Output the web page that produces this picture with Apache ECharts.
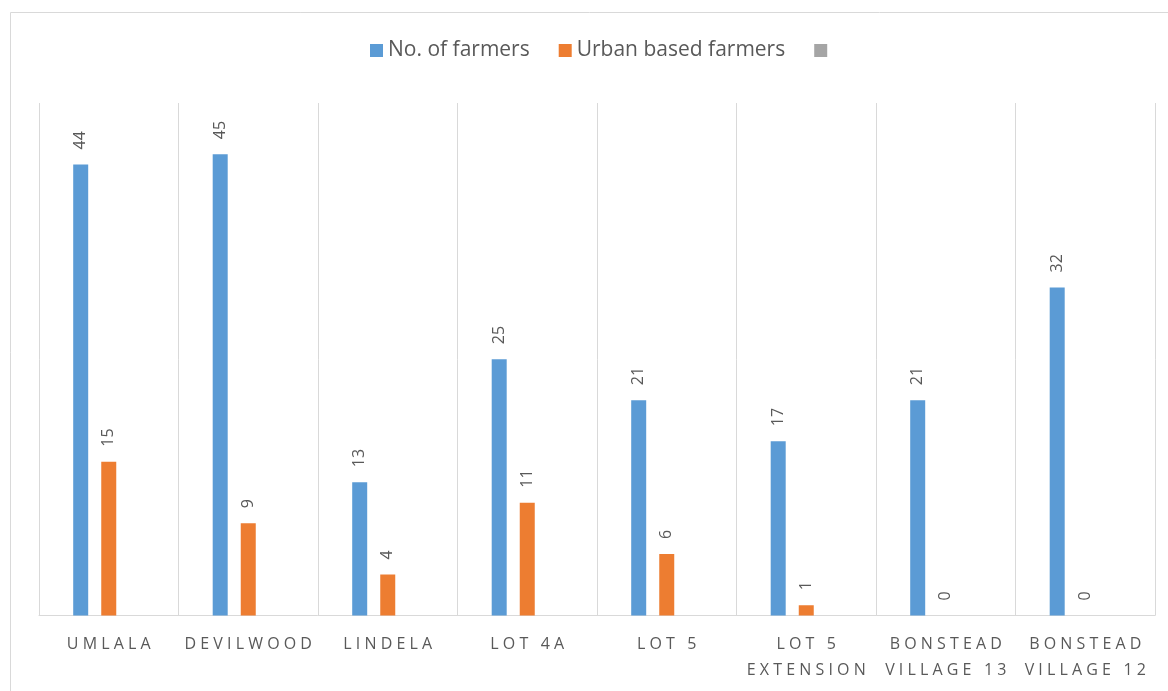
<!DOCTYPE html>
<html>
<head>
<meta charset="utf-8">
<script src="https://cdn.jsdelivr.net/npm/echarts@6/dist/echarts.min.js"></script>
<style>
  html, body { margin: 0; padding: 0; background: #fff; }
  #chart { width: 1168px; height: 691px; }
</style>
</head>
<body>
<div id="chart"></div>
<script>
// 数据
var categories = ['UMLALA', 'DEVILWOOD', 'LINDELA', 'LOT 4A', 'LOT 5', 'LOT 5 EXTENSION', 'BONSTEAD VILLAGE 13', 'BONSTEAD VILLAGE 12'];
var farmers = [44, 45, 13, 25, 21, 17, 21, 32];
var urbanFarmers = [15, 9, 4, 11, 6, 1, 0, 0];
var thirdSeries = [null, null, null, null, null, null, null, null]; // 图例里有一个空的灰色系列
var seriesNames = ['No. of farmers', 'Urban based farmers', ' '];

var FONT = '"Open Sans", "Liberation Sans", sans-serif';

// 分类标签：按词换行，字母间加空格模拟字距
function wrapLabel(name) {
    var words = name.split(' ');
    var lines = [];
    var cur = '';
    words.forEach(function (w) {
        if (cur && (cur + ' ' + w).length > 10) {
            lines.push(cur);
            cur = w;
        } else {
            cur = cur ? cur + ' ' + w : w;
        }
    });
    lines.push(cur);
    return lines.map(function (l) { return l.split('').join(' '); }).join('\n');
}

var chart = echarts.init(document.getElementById('chart'));

var barLabel = {
    show: true,
    position: 'top',
    rotate: 90,
    align: 'left',
    verticalAlign: 'middle',
    distance: 15,
    color: '#595959',
    fontSize: 16,
    fontFamily: FONT
};

chart.setOption({
    animation: false,
    graphic: [{
        type: 'rect',
        shape: { x: 10.5, y: 12.5, width: 1300, height: 800 },
        style: { fill: 'none', stroke: '#d9d9d9', lineWidth: 1 },
        silent: true
    }],
    legend: {
        top: 35,
        left: 365,
        itemWidth: 13,
        itemHeight: 13,
        itemGap: 29,
        itemTextGap: 7,
        icon: 'rect',
        data: seriesNames,
        textStyle: { color: '#595959', fontSize: 21, fontFamily: FONT }
    },
    grid: {
        left: 39,
        right: 13,
        top: 103,
        bottom: 75.5,
        containLabel: false
    },
    xAxis: {
        type: 'category',
        data: categories,
        axisLine: { lineStyle: { color: '#d9d9d9', width: 1 } },
        axisTick: { show: false },
        splitLine: { show: true, lineStyle: { color: '#d9d9d9', width: 1 } },
        axisLabel: {
            interval: 0,
            margin: 16,
            color: '#595959',
            fontSize: 16,
            lineHeight: 26,
            fontFamily: FONT,
            formatter: wrapLabel
        }
    },
    yAxis: {
        type: 'value',
        min: 0,
        max: 50,
        show: false,
        splitLine: { show: false }
    },
    series: [{
        name: seriesNames[0],
        type: 'bar',
        data: farmers,
        barWidth: 15,
        barGap: '87%',
        itemStyle: { color: '#5B9BD5' },
        label: barLabel
    }, {
        name: seriesNames[1],
        type: 'bar',
        data: urbanFarmers,
        barWidth: 15,
        barGap: '87%',
        itemStyle: { color: '#ED7D31' },
        label: barLabel
    }, {
        name: seriesNames[2],
        type: 'bar',
        data: thirdSeries,
        barWidth: 15,
        barGap: '87%',
        itemStyle: { color: '#A5A5A5' },
        label: barLabel
    }]
});
</script>
</body>
</html>
